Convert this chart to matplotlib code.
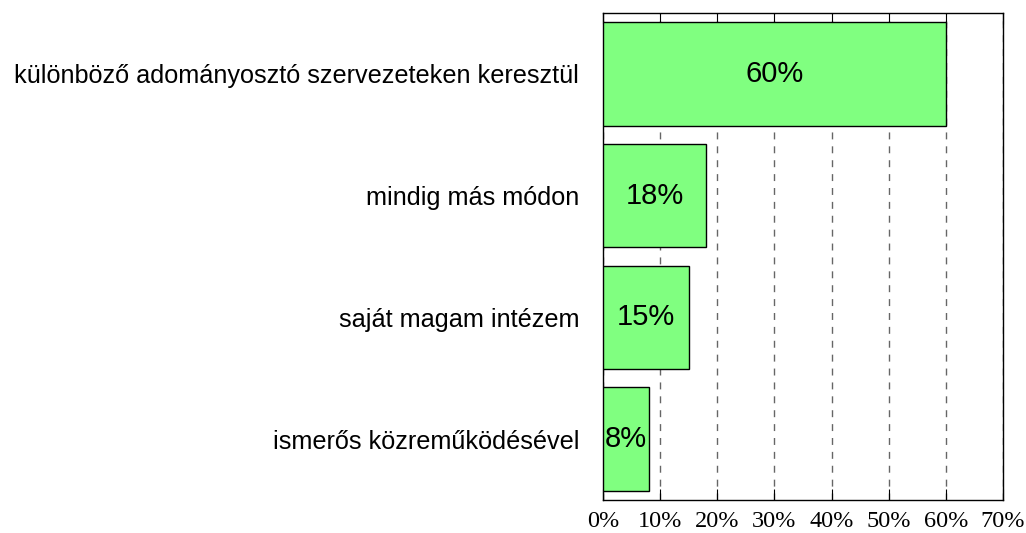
import matplotlib
matplotlib.use('Agg')
import matplotlib.pyplot as plt
import numpy as np

# adatok (felülről lefelé)
categories = ['különböző adományosztó szervezeteken keresztül',
              'mindig más módon',
              'saját magam intézem',
              'ismerős közreműködésével']
values = [60, 18, 15, 8]
xticks = [0, 10, 20, 30, 40, 50, 60, 70]

fig = plt.figure(figsize=(10.26, 5.33), dpi=100)
ax = fig.add_axes([0.5877, 0.0619, 0.3898, 0.9137])

y = np.arange(len(categories))
ax.barh(y, values, height=0.85, color='#80FF80', edgecolor='black',
        linewidth=1.0, zorder=3)

for yi, v in zip(y, values):
    ax.text(v / 2, yi, f'{v}%', ha='center', va='center', fontsize=21,
            family=['Liberation Sans Narrow', 'Liberation Sans'], zorder=4)

ax.set_xlim(0, 70)
ax.set_ylim(len(categories) - 0.5, -0.5)
ax.set_xticks(xticks)
ax.set_xticklabels([f'{t}%' for t in xticks], family='Liberation Serif',
                   fontsize=17.5)
ax.set_yticks(y)
ax.set_yticklabels(categories, family='Liberation Sans', fontsize=18.2)
ax.tick_params(axis='y', length=0, pad=17)
ax.tick_params(axis='x', direction='in', length=8, top=True, bottom=True,
               pad=8)
ax.xaxis.grid(True, linestyle=(0, (5, 5)), color='#666666', linewidth=1.0,
              zorder=0)
ax.set_axisbelow(True)
for s in ax.spines.values():
    s.set_linewidth(1.0)

fig.savefig('out.png', dpi=100)
